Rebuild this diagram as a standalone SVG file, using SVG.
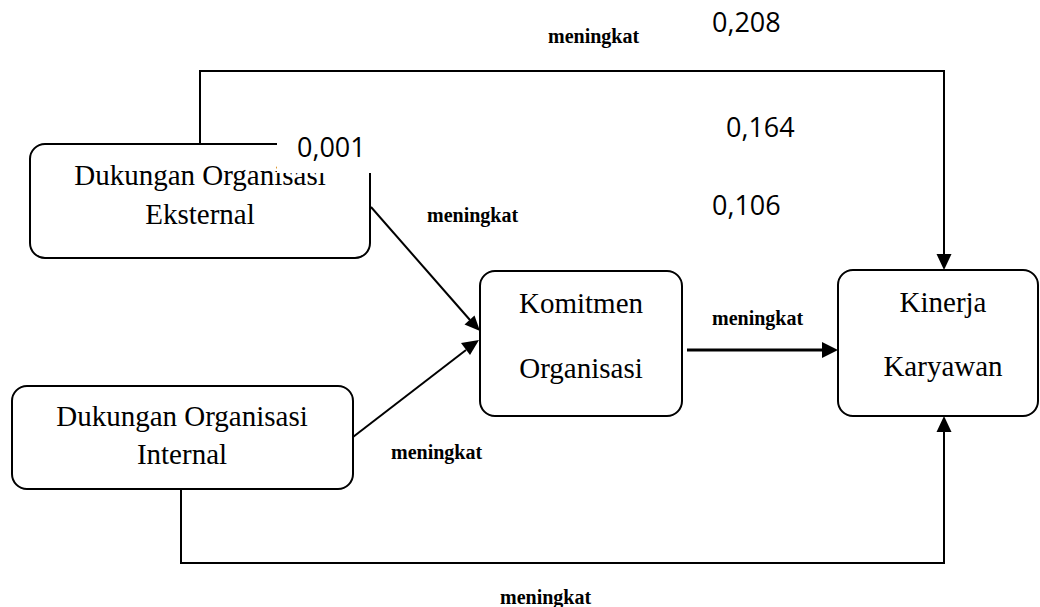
<svg xmlns="http://www.w3.org/2000/svg" width="1040" height="607" viewBox="0 0 1040 607">
<style>
.box{fill:#fff;stroke:#000;stroke-width:2}
.lbl{font-family:"Liberation Serif","Times New Roman",serif;font-size:29px;fill:#000;text-anchor:middle}
.rel{font-family:"Liberation Serif","Times New Roman",serif;font-size:20px;font-weight:bold;fill:#000}
.num{font-family:"Open Sans","Liberation Sans",sans-serif;font-size:27px;fill:#000}
.ln{fill:none;stroke:#000;stroke-width:2}
</style>
<rect width="1040" height="607" fill="#fff"/>
<g id="connectors">
<path class="ln" d="M200,144 V71 H944 V256" />
<path d="M936.5,254 L951.5,254 L944,270 z" fill="#000"/>
<path class="ln" d="M181,489 V563 H944 V430"/>
<path d="M936.5,432 L951.5,432 L944,416 z" fill="#000"/>
<path class="ln" style="stroke-width:3" d="M687,350 H824"/>
<path d="M822,342 L822,358 L838,350 z" fill="#000"/>
<path class="ln" d="M371,207 L470,320"/>
<path d="M464.5,324.5 L474.5,315.5 L480,331 z" fill="#000"/>
<path class="ln" d="M353,437 L466,350"/>
<path d="M461,343 L470,355 L479,340 z" fill="#000"/>
</g>
<g id="n-eksternal">
<rect class="box" x="30" y="144" width="340" height="114" rx="15"/>
<text class="lbl" x="200" y="185">Dukungan Organisasi</text>
<text class="lbl" x="200" y="224">Eksternal</text>
</g>
<g id="n-internal">
<rect class="box" x="12" y="386" width="341" height="103" rx="15"/>
<text class="lbl" x="182" y="426">Dukungan Organisasi</text>
<text class="lbl" x="182" y="464">Internal</text>
</g>
<g id="n-komitmen">
<rect class="box" x="480" y="271" width="202" height="145" rx="15"/>
<text class="lbl" x="581" y="313">Komitmen</text>
<text class="lbl" x="581" y="378">Organisasi</text>
</g>
<g id="n-kinerja">
<rect class="box" x="838" y="270" width="200" height="146" rx="15"/>
<text class="lbl" x="943" y="312">Kinerja</text>
<text class="lbl" x="943" y="376">Karyawan</text>
</g>
<g id="labels">
<rect x="277" y="136" width="97" height="37" fill="#fff"/>
<text class="num" x="297" y="157">0,001</text>
<text class="num" x="712" y="32">0,208</text>
<text class="num" x="726" y="137">0,164</text>
<text class="num" x="712" y="215">0,106</text>
<text class="rel" x="548" y="43">meningkat</text>
<text class="rel" x="427" y="222">meningkat</text>
<text class="rel" x="712" y="325">meningkat</text>
<text class="rel" x="391" y="459">meningkat</text>
<text class="rel" x="500" y="604">meningkat</text>
</g>
</svg>
